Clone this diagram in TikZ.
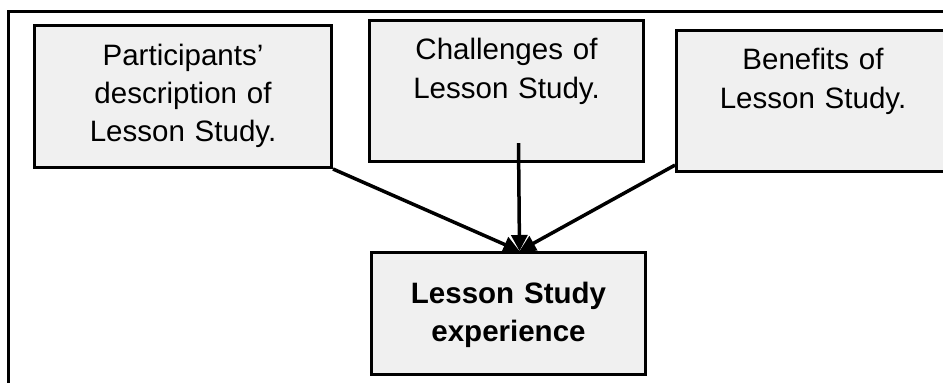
\documentclass[tikz,border=0pt]{standalone}
\usepackage{fontspec}
\setmainfont{Liberation Sans}
\usetikzlibrary{arrows.meta}
\definecolor{boxgray}{HTML}{F0F0F0}

\begin{document}
\begin{tikzpicture}[
    x=1pt,y=-1pt,
    box/.style={draw,line width=3pt,fill=boxgray,inner sep=0pt,anchor=north west,align=center,font=\fontsize{29.5}{38.3}\selectfont},
    topbox/.style={box,text height=39.4pt,text depth=101.7pt},
    arr/.style={-{Triangle[length=16pt,width=16pt]},line width=3.5pt}
]
\useasboundingbox (0,0) rectangle (943,383);
\clip (0,0) rectangle (943,383);
% outer frame, cut by the page edge
\draw[line width=3pt] (8.5,11) rectangle (1000,500);

\node[topbox,text width=297pt,text height=39.5pt,text depth=102.5pt] (parts) at (33,24) {Participants’\\description of\\Lesson Study.};
\node[topbox,text width=274pt] (chall) at (368,19) {Challenges of\\Lesson Study.};
\node[topbox,text width=273pt] (benef) at (675,29) {Benefits of\\Lesson Study.};
\node[box,text width=274pt,text height=50.7pt,text depth=71.3pt,font=\fontsize{29.5}{38.3}\selectfont\bfseries] (exper) at (370,251) {Lesson Study\\experience};

\coordinate (hub) at ([xshift=11pt]exper.north);
\draw[arr] (parts.south east) -- (hub);
\draw[arr] ([xshift=12pt,yshift=20pt]chall.south) -- (hub);
\draw[arr] ([yshift=8pt]benef.south west) -- (hub);
\end{tikzpicture}
\end{document}
